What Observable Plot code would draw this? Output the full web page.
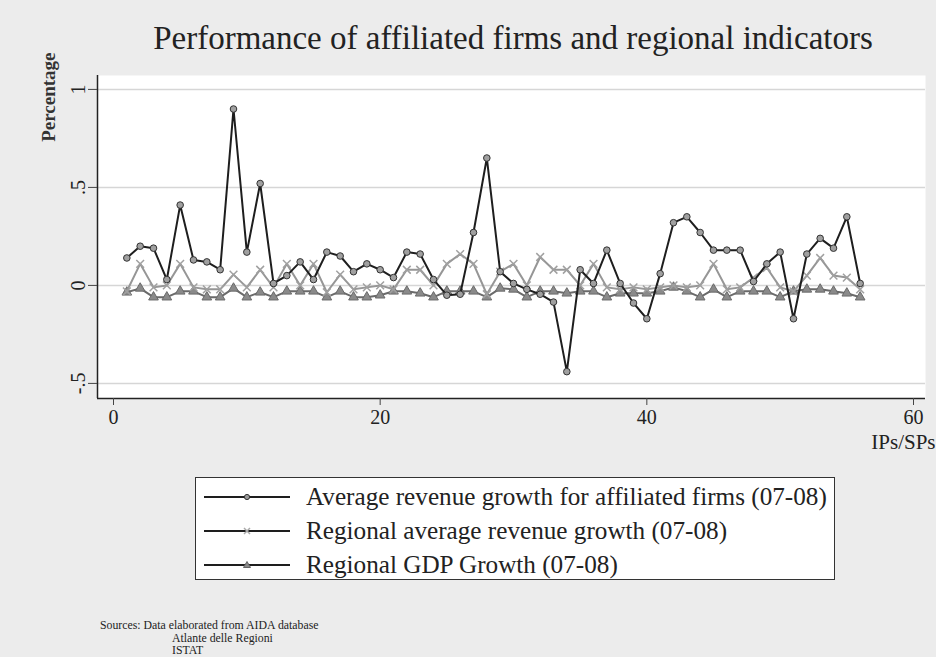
<!DOCTYPE html>
<html>
<head>
<meta charset="utf-8">
<script src="https://cdn.jsdelivr.net/npm/d3@7"></script>
<script src="https://cdn.jsdelivr.net/npm/@observablehq/plot@0.6"></script>
<style>
  html, body { margin: 0; padding: 0; }
  body { width: 936px; height: 657px; background: #ececec; position: relative; overflow: hidden;
         font-family: "Liberation Serif", "DejaVu Serif", serif; color: #222; }
  #title { position: absolute; left: 97px; width: 832px; top: 19px; text-align: center;
           font-size: 33px; line-height: 38px; color: #222; }
  #chart { position: absolute; left: 0; top: 0; }
  #legend { position: absolute; left: 195px; top: 477px; width: 638px; height: 101px;
            background: #fff; border: 1.5px solid #333; }
  .row { position: absolute; left: 8px; height: 30px; display: flex; align-items: center; font-size: 25.2px; white-space: nowrap; }
  .row svg { margin-right: 16px; }
  #sources { position: absolute; left: 100px; top: 619px; font-size: 11.8px; line-height: 12.6px; }
  #sources .ind { padding-left: 72px; }
</style>
</head>
<body>
<div id="title">Performance of affiliated firms and regional indicators</div>
<div id="chart"></div>
<div id="legend"></div>
<div id="sources">
  <div>Sources: Data elaborated from AIDA database</div>
  <div class="ind">Atlante delle Regioni</div>
  <div class="ind">ISTAT</div>
</div>
<script>
// ---- data ----
const ipIndex = [1,2,3,4,5,6,7,8,9,10,11,12,13,14,15,16,17,18,19,20,21,22,23,24,25,26,27,28,29,30,
                 31,32,33,34,35,36,37,38,39,40,41,42,43,44,45,46,47,48,49,50,51,52,53,54,55,56];
const affiliatedGrowth = [0.14,0.20,0.19,0.03,0.41,0.13,0.12,0.08,0.90,0.17,0.52,0.01,0.05,0.12,0.03,0.17,0.15,0.07,0.11,0.08,
                          0.04,0.17,0.16,0.03,-0.05,-0.045,0.27,0.65,0.07,0.01,-0.02,-0.045,-0.085,-0.44,0.08,0.01,0.18,0.01,-0.09,-0.17,
                          0.06,0.32,0.35,0.27,0.18,0.18,0.18,0.02,0.11,0.17,-0.17,0.16,0.24,0.19,0.35,0.01];
const regionalRevenueGrowth = [-0.03,0.11,-0.01,0.0,0.11,-0.01,-0.02,-0.02,0.055,-0.01,0.08,-0.01,0.11,0.0,0.11,-0.035,0.055,-0.02,-0.01,0.0,
                               -0.02,0.08,0.08,0.0,0.11,0.16,0.11,-0.045,0.07,0.11,0.0,0.145,0.08,0.08,0.0,0.11,-0.01,-0.02,-0.01,-0.02,
                               -0.01,0.0,-0.01,0.0,0.11,-0.02,-0.01,0.04,0.09,-0.01,-0.03,0.05,0.14,0.05,0.04,-0.02];
const regionalGdpGrowth = [-0.035,-0.015,-0.06,-0.06,-0.03,-0.03,-0.06,-0.06,-0.015,-0.06,-0.035,-0.06,-0.03,-0.03,-0.03,-0.06,-0.03,-0.06,-0.06,-0.05,
                           -0.03,-0.03,-0.04,-0.06,-0.03,-0.03,-0.03,-0.06,-0.015,-0.02,-0.06,-0.03,-0.03,-0.04,-0.03,-0.03,-0.06,-0.04,-0.04,-0.04,
                           -0.03,-0.01,-0.03,-0.06,-0.02,-0.06,-0.03,-0.03,-0.03,-0.06,-0.03,-0.02,-0.02,-0.03,-0.04,-0.06];
const seriesNames = ["Average revenue growth for affiliated firms (07-08)",
                     "Regional average revenue growth (07-08)",
                     "Regional GDP Growth (07-08)"];
const xTicks = [0, 20, 40, 60];
const yTicks = [-0.5, 0, 0.5, 1];
const xDomain = [-1.2, 60.9];
const yDomain = [-0.577, 1.071];
const xTitle = "IPs/SPs";
const yTitle = "Percentage";

// ---- table ----
const s1 = ipIndex.map((x, i) => ({x, y: affiliatedGrowth[i]}));
const s2 = ipIndex.map((x, i) => ({x, y: regionalRevenueGrowth[i]}));
const s3 = ipIndex.map((x, i) => ({x, y: regionalGdpGrowth[i]}));

const fmt = d => d === 0 ? "0" : String(d).replace("0.", ".");

const plot = Plot.plot({
  width: 936,
  height: 460,
  marginTop: 75,
  marginBottom: 62,
  marginLeft: 97,
  marginRight: 11,
  style: {fontFamily: "'Liberation Serif', serif", background: "transparent", color: "#222"},
  x: {domain: xDomain},
  y: {domain: yDomain},
  marks: [
    Plot.frame({fill: "white", stroke: "none"}),
    Plot.gridY(yTicks, {stroke: "#d6d6d6", strokeOpacity: 1, strokeWidth: 1.5}),
    Plot.ruleX([xDomain[0]], {stroke: "#222", strokeWidth: 1.5}),
    Plot.ruleY([yDomain[0]], {stroke: "#222", strokeWidth: 1.5}),
    Plot.axisY(yTicks, {tickSize: 9, tickPadding: 4, tickRotate: -90, textAnchor: "middle", lineAnchor: "bottom",
                        tickFormat: fmt, fontSize: 20, label: null, stroke: "#444"}),
    Plot.axisX(xTicks, {tickSize: 7, tickPadding: 4, fontSize: 20, label: null, stroke: "#444"}),
    // GDP
    Plot.line(s3, {x: "x", y: "y", stroke: "#6a6a6a", strokeWidth: 2}),
    Plot.dot(s3, {x: "x", y: "y", symbol: "triangle", r: 3.6, fill: "#8a8a8a", stroke: "#6a6a6a", strokeWidth: 1}),
    // regional revenue
    Plot.line(s2, {x: "x", y: "y", stroke: "#969696", strokeWidth: 2}),
    Plot.dot(s2, {x: "x", y: "y", symbol: "times", r: 3.6, stroke: "#a0a0a0", strokeWidth: 1.5}),
    // affiliated
    Plot.line(s1, {x: "x", y: "y", stroke: "#1e1e1e", strokeWidth: 2}),
    Plot.dot(s1, {x: "x", y: "y", symbol: "circle", r: 3.3, fill: "#a0a0a0", stroke: "#333", strokeWidth: 1}),
    Plot.text([xTitle], {frameAnchor: "bottom-right", dx: 10, dy: 50, fontSize: 21, textAnchor: "end", fill: "#222"}),
    Plot.text([yTitle], {frameAnchor: "top-left", dx: -56, dy: -23, rotate: -90, textAnchor: "end",
                         fontSize: 19, fontWeight: "bold", fill: "#333"})
  ]
});
document.getElementById("chart").appendChild(plot);

// ---- legend ----
const legendMarkers = [
  `<circle cx="43" cy="8" r="2.6" fill="#9a9a9a" stroke="#333"/>`,
  `<path d="M40,5L46,11M46,5L40,11" stroke="#aaa" stroke-width="1.5"/>`,
  `<path d="M43,4.5L46.5,10.5L39.5,10.5Z" fill="#8a8a8a" stroke="#666"/>`
];
const legend = document.getElementById("legend");
const rowTops = [4, 38, 72];
seriesNames.forEach((name, i) => {
  const row = document.createElement("div");
  row.className = "row";
  row.style.top = rowTops[i] + "px";
  row.innerHTML = `<svg width="86" height="16"><line x1="0" y1="8" x2="86" y2="8" stroke="#1e1e1e" stroke-width="2"/>${legendMarkers[i]}</svg><span>${name}</span>`;
  legend.appendChild(row);
});
</script>
</body>
</html>
